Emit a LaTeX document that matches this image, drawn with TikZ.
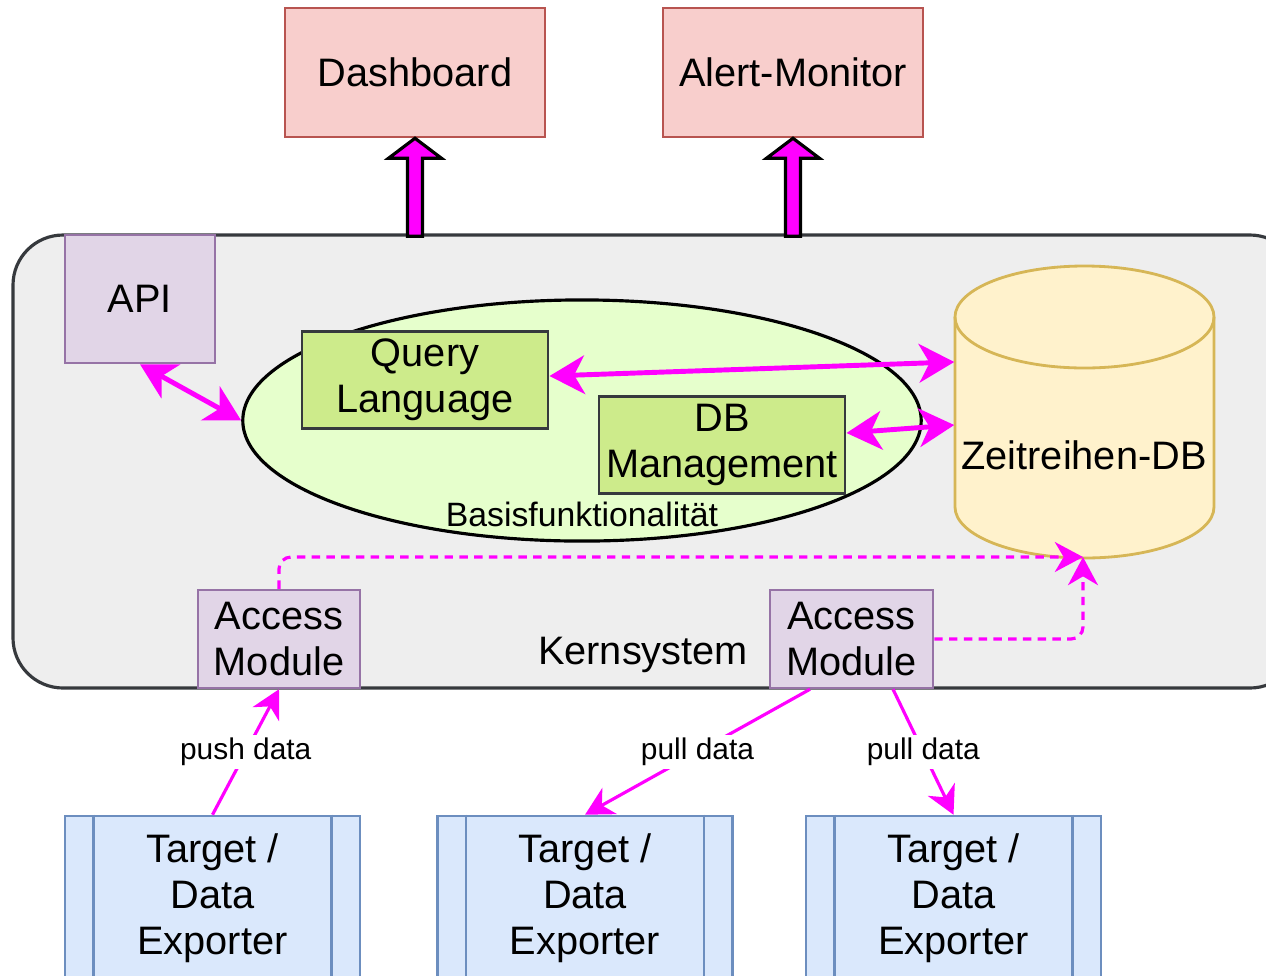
\documentclass[tikz,border=0pt]{standalone}
\usepackage{fontspec}
\setmainfont{Liberation Sans}
\usepackage{xcolor}
\usetikzlibrary{arrows.meta,positioning,shapes.geometric}
\definecolor{redfill}{HTML}{F8CECC}
\definecolor{redline}{HTML}{B85450}
\definecolor{lilafill}{HTML}{E1D5E7}
\definecolor{lilaline}{HTML}{9673A6}
\definecolor{greenfill}{HTML}{CDEB8B}
\definecolor{lightgreen}{HTML}{E6FFCC}
\definecolor{yellowfill}{HTML}{FFF2CC}
\definecolor{yellowline}{HTML}{D6B656}
\definecolor{bluefill}{HTML}{DAE8FC}
\definecolor{blueline}{HTML}{6C8EBF}
\definecolor{kernfill}{HTML}{EEEEEE}
\definecolor{darkline}{HTML}{36393D}
\definecolor{pink}{HTML}{FF00FF}

\begin{document}
\begin{tikzpicture}[x=0.01cm,y=-0.01cm,
  every node/.style={font=\fontsize{11.3}{13}\selectfont, align=center, inner sep=0pt},
  outbox/.style={draw=redline, fill=redfill, line width=0.7pt, minimum width=2.6cm, minimum height=1.29cm},
  lilabox/.style={draw=lilaline, fill=lilafill, line width=0.7pt},
  greenbox/.style={draw=darkline, fill=greenfill, line width=0.8pt, minimum width=2.46cm, minimum height=0.97cm},
  targetbox/.style={draw=blueline, fill=bluefill, line width=0.7pt, minimum width=2.95cm, minimum height=1.64cm},
  small/.style={font=\fontsize{8.5}{10}\selectfont, text=black},
  biarrow/.style={pink, line width=1.4pt, {Stealth[length=10pt,width=11pt,inset=3pt]}-{Stealth[length=10pt,width=11pt,inset=3pt]}},
  dataarrow/.style={pink, line width=0.9pt, -{Stealth[length=8pt,width=8.5pt,inset=2.5pt]}},
  dashedarrow/.style={dataarrow, dash pattern=on 2.4pt off 1.8pt, rounded corners=0.12cm},
  blockarrow/.style={fill=pink, draw=black, line width=0.9pt, line join=miter}]
  \useasboundingbox (0,0) rectangle (1266,975);

  % Kernsystem
  \draw[draw=darkline, fill=kernfill, line width=0.9pt, rounded corners=0.5cm]
    (13,235) rectangle (1300,688);
  \node (kern) at (643,655) {Kernsystem};

  % Ausgabe
  \node[outbox] (dash) at (415,72.5) {Dashboard};
  \node[outbox] (alert) at (793,72.5) {Alert-Monitor};
  \foreach \n in {dash,alert}
    \draw[blockarrow] (\n.south) -- ++(26.5,20) -- ++(-19,0) -- ++(0,78)
      -- ++(-15,0) -- ++(0,-78) -- ++(-19,0) -- cycle;

  % API
  \node[lilabox, minimum width=1.5cm, minimum height=1.28cm] (api) at (140,299) {API};

  % Basisfunktionalitaet
  \node[ellipse, draw=black, fill=lightgreen, line width=0.9pt,
    minimum width=6.78cm, minimum height=2.41cm] (basis) at (582,420.5) {};
  \node[small, font=\fontsize{9.6}{11}\selectfont] (basislabel) at (582,514) {Basisfunktionalität};
  \node[greenbox] (ql) at (425,380) {Query\\Language};
  \node[greenbox] (dbm) at (722,445) {DB\\Management};

  % Zeitreihen-DB
  \node[minimum width=2.59cm, minimum height=2.92cm] (db) at (1084.5,412) {};
  \draw[draw=yellowline, fill=yellowfill, line width=0.8pt]
    (955,317) -- (955,507) arc[start angle=180, end angle=0, x radius=129.5, y radius=51]
    -- (1214,317) arc[start angle=0, end angle=-180, x radius=129.5, y radius=51] -- cycle;
  \draw[draw=yellowline, line width=0.8pt]
    (955,317) arc[start angle=180, end angle=0, x radius=129.5, y radius=51];
  \node (dbtext) at (1084,455) {Zeitreihen-DB};
  \coordinate (dbin) at (1083,557);

  % Access Module
  \node[lilabox, minimum width=1.62cm, minimum height=0.98cm] (am1) at (279,639) {Access\\Module};
  \node[lilabox, minimum width=1.63cm, minimum height=0.98cm] (am2) at (851.5,639) {Access\\Module};

  % Targets
  \node[targetbox] (t1) at (212.5,898) {Target /\\Data\\Exporter};
  \node[targetbox] (t2) at (585,898) {Target /\\Data\\Exporter};
  \node[targetbox] (t3) at (953.5,898) {Target /\\Data\\Exporter};
  \foreach \n in {t1,t2,t3} {
    \draw[draw=blueline, line width=0.7pt] ([xshift=0.3cm]\n.north west) -- ([xshift=0.3cm]\n.south west);
    \draw[draw=blueline, line width=0.7pt] ([xshift=-0.3cm]\n.north east) -- ([xshift=-0.3cm]\n.south east);
  }

  % Verbindungen
  \draw[biarrow] (api.south) -- (basis.west);
  \draw[biarrow] ([yshift=0.04cm]ql.east) -- ([yshift=0.5cm]db.west);
  \draw[biarrow] ([yshift=0.12cm]dbm.east) -- ([yshift=-0.13cm]db.west);
  \draw[dashedarrow] (am1.north) |- (dbin);
  \draw[dashedarrow] (am2.east) -| (dbin);
  \draw[dataarrow] (t1.north) -- node[small, fill=white, inner sep=1pt] {push data} (am1.south);
  \draw[dataarrow] ([xshift=-0.415cm]am2.south) -- node[small, fill=white, inner sep=1pt] {pull data} (t2.north);
  \draw[dataarrow] ([xshift=0.415cm]am2.south) -- node[small, fill=white, inner sep=1pt] {pull data} (t3.north);
\end{tikzpicture}
\end{document}
